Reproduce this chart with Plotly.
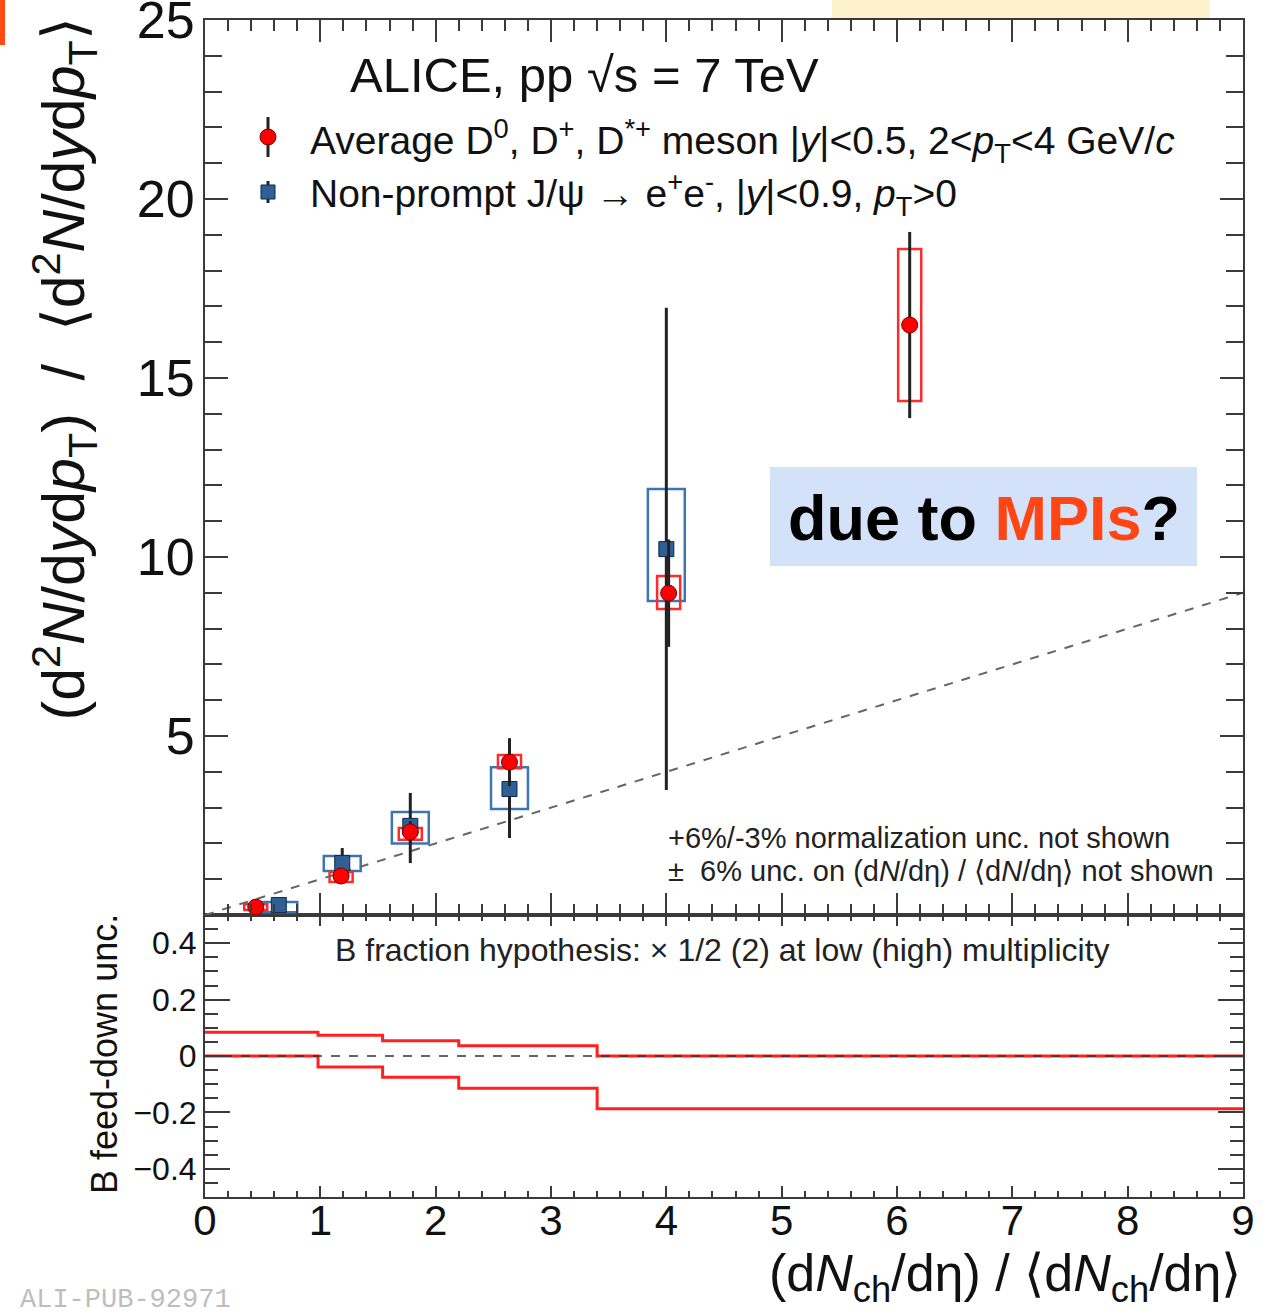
import plotly.graph_objects as go

# ---------------- data ----------------
d_x = [0.44, 1.18, 1.78, 2.64, 4.02, 6.11]
d_y = [0.22, 1.09, 2.32, 4.27, 8.99, 16.48]
d_stat_up = [0.10, 0.15, 0.30, 0.67, 1.50, 2.60]
d_stat_dn = [0.10, 0.15, 0.30, 0.67, 1.50, 2.60]
d_sys_lo = [0.14, 0.92, 2.10, 4.10, 8.55, 14.36]
d_sys_hi = [0.30, 1.20, 2.43, 4.47, 9.47, 18.60]

j_x = [0.64, 1.19, 1.78, 2.64, 4.00]
j_y = [0.28, 1.45, 2.49, 3.52, 10.22]
j_stat_up = [0.10, 0.42, 0.92, 1.37, 6.74]
j_stat_dn = [0.10, 0.35, 1.04, 1.37, 6.73]
j_sys_lo = [0.08, 1.23, 2.00, 2.96, 8.77]
j_sys_hi = [0.36, 1.65, 2.88, 4.13, 11.90]

ref_x = [0, 9]
ref_y = [0, 9]

fd_edges = [0, 0.98, 1.54, 2.20, 3.40, 9.0]
fd_upper = [0.084, 0.074, 0.054, 0.036, 0.0]
fd_lower = [0.0, -0.039, -0.075, -0.114, -0.187]

top_y_ticks = [5, 10, 15, 20, 25]
bot_y_ticks = [-0.4, -0.2, 0, 0.2, 0.4]
bot_y_labels = ["\u22120.4", "\u22120.2", "0", "0.2", "0.4"]
x_ticks = list(range(0, 10))

# ---------------- style ----------------
FONT = "Liberation Sans"
AX = "#3a3a3a"
RED = "#ff0000"
RED_BOX = "#ff2a2a"
BLUE = "#2f5f95"
BLUE_BOX = "#3d74b3"
D_BOX_HW = 0.10
J_BOX_HW = 0.16

W, H = 1268, 1316
L, R, T, B = 205, 25, 20, 119
PW, PH = W - L - R, H - T - B


def px(xp):
    return (xp - L) / PW


def py(yp):
    return (H - B - yp) / PH


split = py(915)

fig = go.Figure()

# reference diagonal
fig.add_trace(go.Scatter(x=ref_x, y=ref_y, mode="lines", xaxis="x2", yaxis="y2",
                         line=dict(color="#666666", width=2, dash="dash"),
                         showlegend=False, hoverinfo="skip"))

# J/psi
fig.add_trace(go.Scatter(x=j_x, y=j_y, mode="markers", xaxis="x2", yaxis="y2",
                         marker=dict(symbol="square", size=15, color=BLUE,
                                     line=dict(color="#0d2a4d", width=1)),
                         error_y=dict(type="data", array=j_stat_up, arrayminus=j_stat_dn,
                                      color="#222222", thickness=3, width=0),
                         showlegend=False))
# D mesons
fig.add_trace(go.Scatter(x=d_x, y=d_y, mode="markers", xaxis="x2", yaxis="y2",
                         marker=dict(symbol="circle", size=16, color=RED,
                                     line=dict(color="#7a0000", width=1)),
                         error_y=dict(type="data", array=d_stat_up, arrayminus=d_stat_dn,
                                      color="#222222", thickness=3, width=0),
                         showlegend=False))

shapes = []
for x, lo, hi in zip(j_x, j_sys_lo, j_sys_hi):
    shapes.append(dict(type="rect", xref="x2", yref="y2", x0=x - J_BOX_HW, x1=x + J_BOX_HW,
                       y0=lo, y1=hi, line=dict(color=BLUE_BOX, width=2.5), layer="below"))
for x, lo, hi in zip(d_x, d_sys_lo, d_sys_hi):
    shapes.append(dict(type="rect", xref="x2", yref="y2", x0=x - D_BOX_HW, x1=x + D_BOX_HW,
                       y0=lo, y1=hi, line=dict(color=RED_BOX, width=2.5), layer="below"))

# bottom panel: feed-down steps
fig.add_trace(go.Scatter(x=fd_edges, y=fd_upper + [fd_upper[-1]], mode="lines",
                         line=dict(color="#ff2020", width=3, shape="hv"),
                         showlegend=False, hoverinfo="skip"))
fig.add_trace(go.Scatter(x=fd_edges, y=fd_lower + [fd_lower[-1]], mode="lines",
                         line=dict(color="#ff2020", width=3, shape="hv"),
                         showlegend=False, hoverinfo="skip"))
fig.add_trace(go.Scatter(x=[fd_edges[0], fd_edges[-1]], y=[0, 0], mode="lines",
                         line=dict(color="#333333", width=1.5, dash="dash"),
                         showlegend=False, hoverinfo="skip"))

# legend symbols
shapes += [
    dict(type="line", xref="paper", yref="paper", xsizemode="pixel", ysizemode="pixel",
         xanchor=px(268), yanchor=py(137), x0=0, x1=0, y0=-20, y1=20,
         line=dict(color="#222222", width=3)),
    dict(type="circle", xref="paper", yref="paper", xsizemode="pixel", ysizemode="pixel",
         xanchor=px(268), yanchor=py(137), x0=-8, x1=8, y0=-8, y1=8,
         fillcolor=RED, line=dict(color="#7a0000", width=1)),
    dict(type="line", xref="paper", yref="paper", xsizemode="pixel", ysizemode="pixel",
         xanchor=px(268), yanchor=py(192), x0=0, x1=0, y0=-11, y1=11,
         line=dict(color="#222222", width=3)),
    dict(type="rect", xref="paper", yref="paper", xsizemode="pixel", ysizemode="pixel",
         xanchor=px(268), yanchor=py(192), x0=-7, x1=7, y0=-7, y1=7,
         fillcolor=BLUE, line=dict(color="#0d2a4d", width=1)),
    # MPI box
    dict(type="rect", xref="paper", yref="paper", x0=px(770), x1=px(1197), y0=py(566), y1=py(467),
         fillcolor="#d3e2f9", line=dict(width=0), layer="above"),
    # decorations
    dict(type="rect", xref="paper", yref="paper", x0=px(832), x1=px(1210), y0=py(18), y1=py(-2),
         fillcolor="#fef2cc", line=dict(width=0), layer="above"),
    dict(type="rect", xref="paper", yref="paper", x0=px(-2), x1=px(5), y0=py(45), y1=py(-2),
         fillcolor="#ff4a14", line=dict(width=0), layer="above"),
]

ann = []


def A(text, x, y, size, xanchor="left", yanchor="middle", color="#111111", angle=0, family=FONT):
    ann.append(dict(text=text, x=x, y=y, xref="paper", yref="paper", showarrow=False,
                    xanchor=xanchor, yanchor=yanchor, textangle=angle,
                    font=dict(family=family, size=size, color=color)))


A("ALICE, pp √s = 7 TeV", px(348), py(75), 49)
A("Average D<sup>0</sup>, D<sup>+</sup>, D<sup>*+</sup> meson |<i>y</i>|&lt;0.5, 2&lt;<i>p</i><sub>T</sub>&lt;4 GeV/<i>c</i>",
  px(308), py(141), 39)
A("Non-prompt J/ψ → e<sup>+</sup>e<sup>-</sup>, |<i>y</i>|&lt;0.9, <i>p</i><sub>T</sub>&gt;0", px(308), py(194), 39)
A("+6%/-3% normalization unc. not shown", px(666), py(838), 29, color="#222222")
A("±  6% unc. on (d<i>N</i>/dη) / ⟨d<i>N</i>/dη⟩ not shown", px(666), py(871), 29, color="#222222")
A("B fraction hypothesis: × 1/2 (2) at low (high) multiplicity", px(722), py(950), 32,
  xanchor="center", color="#222222")
A("<b>due to <span style='color:#ff4514'>MPIs</span>?</b>", px(984), py(518), 63, xanchor="center",
  color="#000000")
A("(d<sup>2</sup><i>N</i>/d<i>y</i>d<i>p</i><sub>T</sub>)  /  ⟨d<sup>2</sup><i>N</i>/d<i>y</i>d<i>p</i><sub>T</sub>⟩",
  px(64), py(16), 59, xanchor="center", yanchor="top", angle=-90)
A("B feed-down unc.", px(104), py(1054), 36, xanchor="center", angle=-90)
A("(d<i>N</i><sub>ch</sub>/dη) / ⟨d<i>N</i><sub>ch</sub>/dη⟩", 1.0, py(1277), 52, xanchor="right")
A("ALI-PUB-92971", px(18), py(1300), 27, color="#bdbdbd", family="Liberation Mono")

axis_common = dict(showline=True, linecolor=AX, linewidth=2, mirror="allticks", ticks="inside",
                   tickcolor=AX, tickwidth=2, showgrid=False, zeroline=False,
                   ticklabeloverflow="allow", automargin=False)

fig.update_layout(
    width=W, height=H, margin=dict(l=L, r=R, t=T, b=B, autoexpand=False),
    paper_bgcolor="white", plot_bgcolor="white", showlegend=False,
    xaxis=dict(axis_common, domain=[0, 1], anchor="y", range=[0, 9], tickmode="array",
               tickvals=x_ticks, ticktext=[str(v) for v in x_ticks], ticklen=11,
               ticklabelstandoff=-14,
               tickfont=dict(family=FONT, size=42, color="#111111"),
               minor=dict(ticks="inside", tickmode="linear", tick0=0, dtick=0.2, ticklen=6,
                          tickcolor=AX, tickwidth=1.5)),
    yaxis=dict(axis_common, domain=[0, split], anchor="x", range=[-0.5, 0.5], tickmode="array",
               tickvals=bot_y_ticks, ticktext=bot_y_labels, ticklen=25,
               tickfont=dict(family=FONT, size=32, color="#111111"),
               minor=dict(ticks="inside", tickmode="linear", tick0=0, dtick=0.05, ticklen=13,
                          tickcolor=AX, tickwidth=1.5)),
    xaxis2=dict(axis_common, domain=[0, 1], anchor="y2", range=[0, 9], tickmode="array",
                tickvals=x_ticks, ticklen=22, showticklabels=False,
                minor=dict(ticks="inside", tickmode="linear", tick0=0, dtick=0.2, ticklen=11,
                           tickcolor=AX, tickwidth=1.5)),
    yaxis2=dict(axis_common, domain=[split, 1], anchor="x2", range=[0, 25], tickmode="array",
                tickvals=top_y_ticks, ticktext=[str(v) for v in top_y_ticks], ticklen=23,
                ticklabelstandoff=-2,
                tickfont=dict(family=FONT, size=52, color="#111111"),
                minor=dict(ticks="inside", tickmode="linear", tick0=0, dtick=1, ticklen=17,
                           tickcolor=AX, tickwidth=1.5)),
    shapes=shapes, annotations=ann,
)

fig.write_html("out.html")
